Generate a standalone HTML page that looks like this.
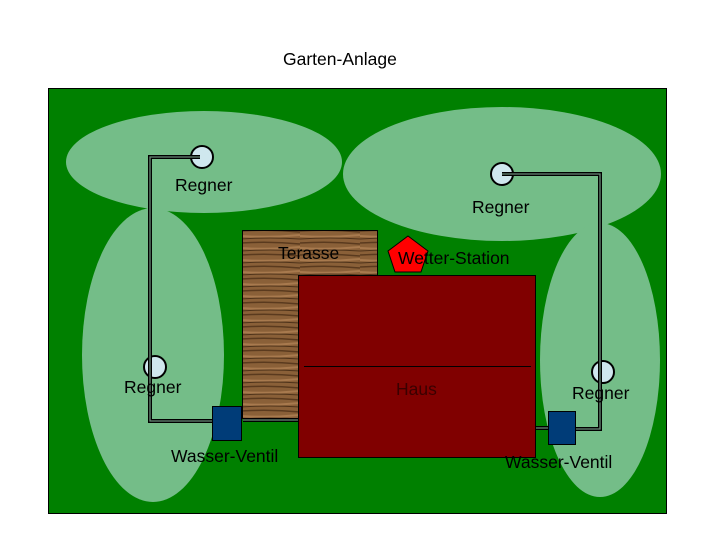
<!DOCTYPE html>
<html><head><meta charset="utf-8"><style>
body{margin:0;background:#fff;}
svg{display:block;}
text{font-family:"Liberation Sans",sans-serif;font-size:17.5px;fill:#000;}
</style></head><body>
<svg width="720" height="540" viewBox="0 0 720 540">
<defs>
<pattern id="wood" width="60" height="12" patternUnits="userSpaceOnUse">
<rect width="60" height="12" fill="#8a6038"/>
<path d="M0 3 Q30 1 60 4" stroke="#5a3a1e" stroke-width="1.5" fill="none"/>
<path d="M0 8 Q30 10 60 7" stroke="#a87a4e" stroke-width="2" fill="none"/>
<path d="M0 11 Q30 9 60 11" stroke="#4e3219" stroke-width="1" fill="none"/>
</pattern>
</defs>
<text x="283" y="65">Garten-Anlage</text>
<rect x="48.5" y="88.5" width="618" height="425" fill="#008000" stroke="#000"/>
<g fill="#74bd88">
<ellipse cx="204" cy="162" rx="138" ry="51"/>
<ellipse cx="502" cy="174" rx="159" ry="67"/>
<ellipse cx="153" cy="355" rx="71" ry="147"/>
<ellipse cx="600" cy="360" rx="60" ry="137"/>
</g>
<rect x="242.5" y="230.5" width="135" height="188" fill="url(#wood)" stroke="#000"/>
<text x="278" y="259">Terasse</text>
<g fill="#cfe7ee" stroke="#000" stroke-width="2">
<circle cx="202" cy="157" r="11"/>
<circle cx="502" cy="174" r="11"/>
<circle cx="155" cy="367" r="11"/>
<circle cx="603" cy="372" r="11"/>
</g>
<g fill="none" stroke-linejoin="miter">
<path d="M200 157 H150 V421 H212 M243 420 H298 M502 174 H600 V429 H576 M535 428 H548" stroke="#000" stroke-width="4"/>
<path d="M200 157 H150 V421 H212 M243 420 H298 M502 174 H600 V429 H576 M535 428 H548" stroke="#6a8a78" stroke-width="1.3"/>
</g>
<rect x="298.5" y="275.5" width="237" height="182" fill="#800000" stroke="#000"/>
<line x1="304" y1="366.5" x2="531" y2="366.5" stroke="#000"/>
<text x="396" y="395" style="fill:#3a0000">Haus</text>
<polygon points="408,236 428,251 421,272 395,272 388,251" fill="#f00" stroke="#000"/>
<text x="398" y="264">Wetter-Station</text>
<text x="175" y="191">Regner</text>
<text x="472" y="213">Regner</text>
<text x="124" y="393">Regner</text>
<text x="572" y="399">Regner</text>
<rect x="212.5" y="406.5" width="29" height="34" fill="#003c78" stroke="#000"/>
<rect x="548.5" y="411.5" width="27" height="33" fill="#003c78" stroke="#000"/>
<text x="171" y="462">Wasser-Ventil</text>
<text x="505" y="468">Wasser-Ventil</text>
</svg>
</body></html>
